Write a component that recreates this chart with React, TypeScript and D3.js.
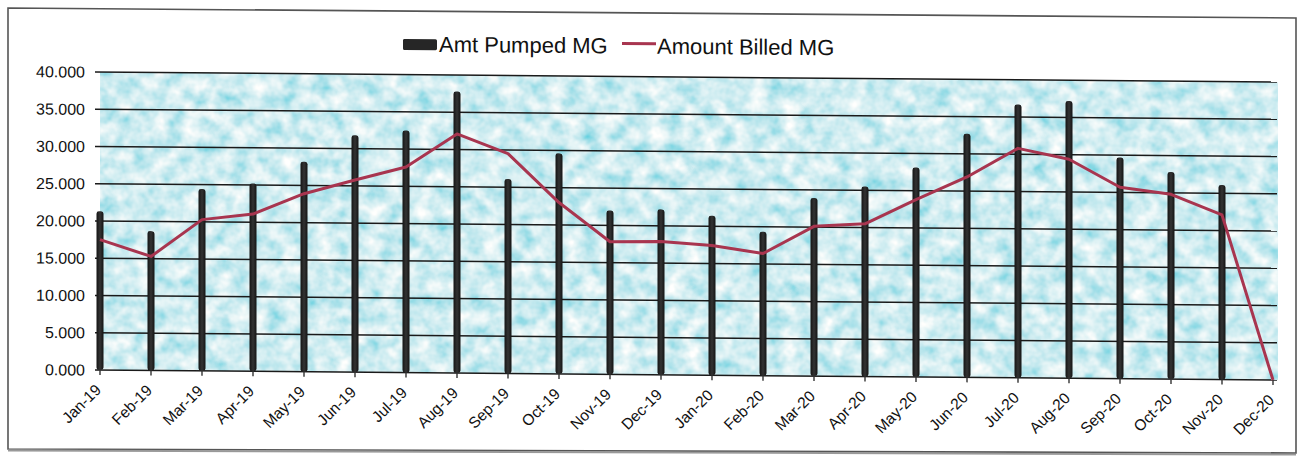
import React from "react";
import * as d3 from "d3";

// monthly volumes, MG
const months = [
  "Jan-19", "Feb-19", "Mar-19", "Apr-19", "May-19", "Jun-19",
  "Jul-19", "Aug-19", "Sep-19", "Oct-19", "Nov-19", "Dec-19",
  "Jan-20", "Feb-20", "Mar-20", "Apr-20", "May-20", "Jun-20",
  "Jul-20", "Aug-20", "Sep-20", "Oct-20", "Nov-20", "Dec-20",
];
const amtPumped: (number | null)[] = [
  21.3, 18.7, 24.4, 25.2, 28.2, 31.8, 32.5, 37.8, 26.1, 29.6, 22.0, 22.2,
  21.4, 19.3, 23.9, 25.5, 28.1, 32.7, 36.7, 37.2, 29.7, 27.8, 26.1, null,
];
const amtBilled = [
  17.5, 15.3, 20.3, 21.1, 23.9, 25.8, 27.6, 32.1, 29.5, 23.0, 17.8, 17.9,
  17.4, 16.4, 20.1, 20.5, 23.8, 26.9, 30.8, 29.4, 25.7, 24.8, 22.1, 0,
];
const yTicks = [0, 5, 10, 15, 20, 25, 30, 35, 40];
const seriesNames = ["Amt Pumped MG", "Amount Billed MG"];

const W = 1297;
const H = 457;
const FONT = "'Liberation Sans', Arial, sans-serif";

const App = () => {
  const svgRef = React.useRef<SVGSVGElement>(null);

  React.useEffect(() => {
    const svg = d3.select(svgRef.current);
    svg.selectAll("*").remove();

    const plot = { left: 100, right: 1277, top: 72, bottom: 370 };
    const x = d3.scalePoint<string>().domain(months).range([100, 1273]);
    const y = d3.scaleLinear().domain([0, 40]).range([plot.bottom, plot.top]);

    const defs = svg.append("defs");
    // watery texture for the plot area
    const f = defs
      .append("filter")
      .attr("id", "water")
      .attr("x", 0)
      .attr("y", 0)
      .attr("width", 1)
      .attr("height", 1);
    f.append("feTurbulence")
      .attr("type", "fractalNoise")
      .attr("baseFrequency", "0.06 0.065")
      .attr("numOctaves", 3)
      .attr("seed", 7);
    f.append("feColorMatrix")
      .attr("type", "matrix")
      .attr(
        "values",
        "1.1 0 0 0 0.08  0.45 0 0 0 0.62  0.3 0 0 0 0.73  0 0 0 0 1"
      );
    const barGrad = defs
      .append("linearGradient")
      .attr("id", "barGrad")
      .attr("x1", 0)
      .attr("x2", 1);
    barGrad.append("stop").attr("offset", "0%").attr("stop-color", "#141414");
    barGrad.append("stop").attr("offset", "50%").attr("stop-color", "#333");
    barGrad.append("stop").attr("offset", "100%").attr("stop-color", "#141414");

    // outer frame (scan is a bit crooked)
    svg
      .append("path")
      .attr("d", "M8,8 L1296,18 L1296,453 L8,449 Z")
      .attr("fill", "#fff")
      .attr("stroke", "#555")
      .attr("stroke-width", 1.6);
    svg
      .append("line")
      .attr("x1", 8)
      .attr("y1", 450.5)
      .attr("x2", 1296)
      .attr("y2", 454.5)
      .attr("stroke", "#999")
      .attr("stroke-width", 2);

    // everything else sheared like the scan
    const g = svg
      .append("g")
      .attr("transform", "translate(100,0) skewY(0.487) translate(-100,0)")
      .style("font-family", FONT);

    g.append("rect")
      .attr("x", plot.left)
      .attr("y", plot.top)
      .attr("width", plot.right - plot.left)
      .attr("height", plot.bottom - plot.top)
      .attr("filter", "url(#water)");

    // gridlines + y ticks
    g.selectAll("line.grid")
      .data(yTicks)
      .enter()
      .append("line")
      .attr("x1", plot.left - 5)
      .attr("x2", plot.right)
      .attr("y1", (d) => y(d))
      .attr("y2", (d) => y(d))
      .attr("stroke", "#1a1a1a")
      .attr("stroke-width", 1.5);
    g.selectAll("text.ylab")
      .data(yTicks)
      .enter()
      .append("text")
      .attr("x", 85)
      .attr("y", (d) => y(d))
      .attr("dy", "0.36em")
      .attr("text-anchor", "end")
      .attr("font-size", 16)
      .attr("fill", "#111")
      .text((d) => d3.format(".3f")(d));

    // x ticks + labels
    g.selectAll("line.xt")
      .data(months)
      .enter()
      .append("line")
      .attr("x1", (d) => x(d)!)
      .attr("x2", (d) => x(d)!)
      .attr("y1", plot.bottom)
      .attr("y2", plot.bottom + 5)
      .attr("stroke", "#333")
      .attr("stroke-width", 1.4);
    g.selectAll("text.xlab")
      .data(months)
      .enter()
      .append("text")
      .attr("transform", (d) => `translate(${x(d)! + 2},${plot.bottom + 21}) rotate(-45)`)
      .attr("text-anchor", "end")
      .attr("font-size", 15.5)
      .attr("fill", "#111")
      .text((d) => d);

    // pumped bars
    const bars = months
      .map((m, i) => ({ m, v: amtPumped[i] }))
      .filter((d) => d.v != null) as { m: string; v: number }[];
    g.selectAll("rect.bar")
      .data(bars)
      .enter()
      .append("rect")
      .attr("x", (d) => x(d.m)! - 3.5)
      .attr("y", (d) => y(d.v))
      .attr("width", 7)
      .attr("height", (d) => y(0) - y(d.v))
      .attr("rx", 2.5)
      .attr("fill", "url(#barGrad)");

    // billed line
    const line = d3
      .line<number>()
      .x((_, i) => x(months[i])!)
      .y((d) => y(d));
    g.append("path")
      .attr("d", line(amtBilled))
      .attr("fill", "none")
      .attr("stroke", "#a8354f")
      .attr("stroke-width", 3)
      .attr("stroke-linejoin", "round");

    // legend
    const lg = g.append("g").attr("font-size", 22).attr("fill", "#111");
    lg.append("rect")
      .attr("x", 403)
      .attr("y", 36.5)
      .attr("width", 34)
      .attr("height", 11)
      .attr("rx", 1.5)
      .attr("fill", "#262626");
    lg.append("text").attr("x", 439).attr("y", 49).text(seriesNames[0]);
    lg.append("line")
      .attr("x1", 622)
      .attr("x2", 656)
      .attr("y1", 39)
      .attr("y2", 39)
      .attr("stroke", "#a8354f")
      .attr("stroke-width", 3);
    lg.append("text").attr("x", 657).attr("y", 49).text(seriesNames[1]);
  }, []);

  return (
    <svg
      ref={svgRef}
      width={W}
      height={H}
      style={{ position: "absolute", left: 0, top: 0, background: "#fff" }}
    />
  );
};

export default App;
